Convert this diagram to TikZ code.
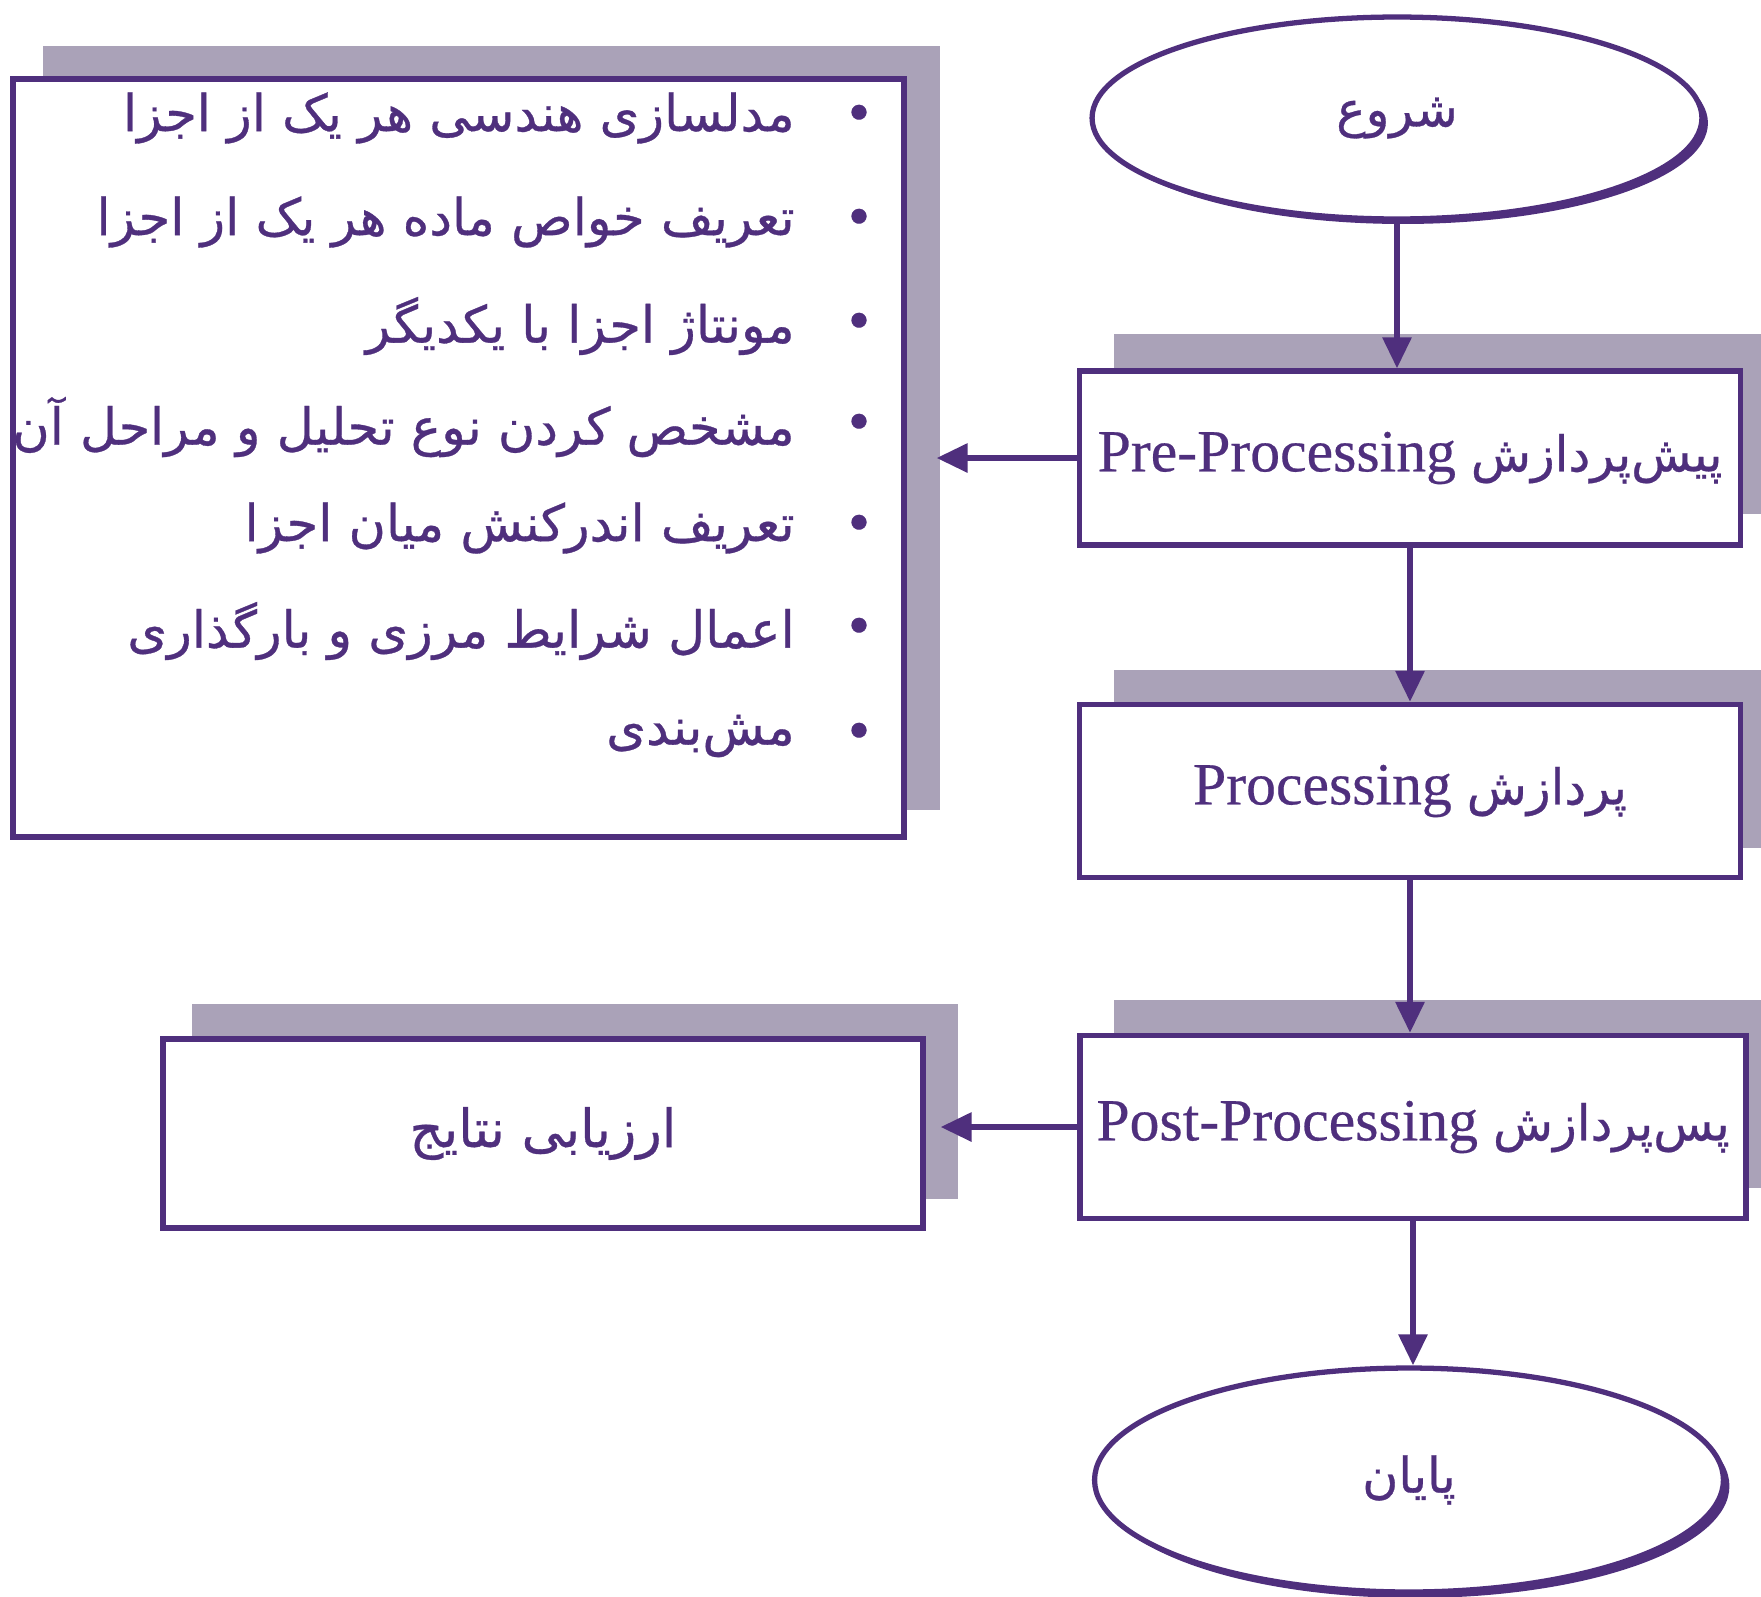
\documentclass[tikz,border=0pt]{standalone}
\usepackage{fontspec}
\setmainfont[FakeBold=0.4]{Liberation Serif}
\newfontfamily\persian[Script=Arabic,FakeBold=0.6]{DejaVu Sans}
\TeXXeTstate=1
\usetikzlibrary{shapes.geometric,arrows.meta,calc,backgrounds}
\definecolor{ink}{RGB}{79,47,125}
\definecolor{shadowc}{RGB}{170,162,184}
\begin{document}
\begin{tikzpicture}[x=0.02cm,y=-0.02cm,
  every node/.style={text=ink},
  box/.style={draw=ink, line width=3pt, fill=white, rectangle, inner sep=0pt},
  oval/.style={draw=ink, line width=3pt, fill=white, ellipse, inner sep=0pt},
  ovalshadow/.style={fill=ink, draw=none, ellipse, inner sep=0pt},
  conn/.style={draw=ink, line width=3.4pt, -{Triangle[length=0.62cm,width=0.56cm]}},
  lat/.style={font=\fontsize{34}{40}\selectfont},
  fa/.style={font=\persian\fontsize{29}{36}\selectfont},
  item/.style={fa, anchor=east, inner sep=0pt},
  dot/.style={fa, inner sep=0pt}
]
\useasboundingbox (0,0) rectangle (1761,1596);
% main nodes
\node[oval, minimum width=12.2cm, minimum height=4.04cm] (start) at (1397,118)
  {\persian\fontsize{28}{36}\selectfont\beginR شروع\endR};
\node[box, minimum width=13.22cm, minimum height=3.48cm, lat] (pre) at (1410,458)
  {Pre-Processing {\persian\fontsize{28}{36}\selectfont\beginR پیش‌پردازش\endR}};
\node[box, minimum width=13.22cm, minimum height=3.46cm, lat] (proc) at (1410,791)
  {Processing {\persian\fontsize{28}{36}\selectfont\beginR پردازش\endR}};
\node[box, minimum width=13.32cm, minimum height=3.66cm, lat] (post) at (1413,1127)
  {Post-Processing {\persian\fontsize{28}{36}\selectfont\beginR پس‌پردازش\endR}};
\node[oval, minimum width=12.58cm, minimum height=4.48cm] (end) at (1409,1480)
  {\persian\fontsize{28}{36}\selectfont\beginR پایان\endR};
\node[box, minimum width=17.82cm, minimum height=15.16cm] (list) at (458.5,458) {};
\node[box, minimum width=15.2cm, minimum height=3.78cm] (res) at (543,1133.5)
  {\persian\fontsize{30}{36}\selectfont\beginR ارزیابی نتایج\endR};
% list items
\node[dot] (b1) at (859,118) {•};
\node[dot] (b2) at (859,222) {•};
\node[dot] (b3) at (859,326) {•};
\node[dot] (b4) at (859,427) {•};
\node[dot] (b5) at (859,528) {•};
\node[dot] (b6) at (859,631) {•};
\node[dot] (b7) at (859,736) {•};
\node[item] (t1) at (795,118) {\beginR مدلسازی هندسی هر یک از اجزا\endR};
\node[item] (t2) at (795,222) {\beginR تعریف خواص ماده هر یک از اجزا\endR};
\node[item] (t3) at (795,326) {\beginR مونتاژ اجزا با یکدیگر\endR};
\node[item] (t4) at (795,427) {\beginR مشخص کردن نوع تحلیل و مراحل آن\endR};
\node[item] (t5) at (795,528) {\beginR تعریف اندرکنش میان اجزا\endR};
\node[item] (t6) at (795,631) {\beginR اعمال شرایط مرزی و بارگذاری\endR};
\node[item] (t7) at (795,736) {\beginR مش‌بندی\endR};
% shadows
\begin{scope}[on background layer]
  \fill[white] (0,0) rectangle (1761,1596);
  \fill[shadowc] ($(list.south west)+(33,-30)$) rectangle ($(list.north east)+(33,-30)$);
  \fill[shadowc] ($(pre.south west)+(37,-34)$) rectangle ($(pre.north east)+(37,-34)$);
  \fill[shadowc] ($(proc.south west)+(37,-32)$) rectangle ($(proc.north east)+(37,-32)$);
  \fill[shadowc] ($(post.south west)+(37,-33)$) rectangle ($(post.north east)+(37,-33)$);
  \fill[shadowc] ($(res.south west)+(32,-32)$) rectangle ($(res.north east)+(32,-32)$);
  \node[ovalshadow, minimum width=12.2cm, minimum height=4.04cm] (starts) at ($(start.center)+(6,5)$) {};
  \node[ovalshadow, minimum width=12.58cm, minimum height=4.48cm] (ends) at ($(end.center)+(6,6)$) {};
\end{scope}
% connectors
\coordinate (lt) at ($(list.east)+(30,0)$);
\coordinate (rt) at ($(res.east)+(15,0)$);
\draw[conn] (start.south) -- (start.south |- pre.north);
\draw[conn] (pre.south) -- (proc.north);
\draw[conn] (proc.south) -- (proc.south |- post.north);
\draw[conn] (post.south) -- (post.south |- end.north);
\draw[conn] (pre.west) -- (lt);
\draw[conn] (post.west) -- (post.west -| rt);
\end{tikzpicture}
\end{document}
